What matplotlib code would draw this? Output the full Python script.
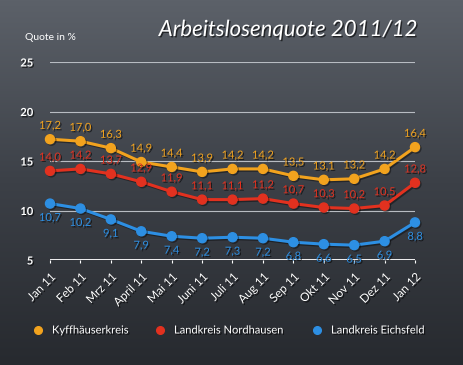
import numpy as np
import matplotlib
matplotlib.use('Agg')
import matplotlib.pyplot as plt
import matplotlib.patheffects as pe
from matplotlib.colors import LinearSegmentedColormap

months = ['Jan 11', 'Feb 11', 'Mrz 11', 'April 11', 'Mai 11', 'Juni 11', 'Juli 11',
          'Aug 11', 'Sep 11', 'Okt 11', 'Nov 11', 'Dez 11', 'Jan 12']
kyff = [17.2, 17.0, 16.3, 14.9, 14.4, 13.9, 14.2, 14.2, 13.5, 13.1, 13.2, 14.2, 16.4]
nordh = [14.0, 14.2, 13.7, 12.9, 11.9, 11.1, 11.1, 11.2, 10.7, 10.3, 10.2, 10.5, 12.8]
eichs = [10.7, 10.2, 9.1, 7.9, 7.4, 7.2, 7.3, 7.2, 6.8, 6.6, 6.5, 6.9, 8.8]
names = ['Kyffhäuserkreis', 'Landkreis Nordhausen', 'Landkreis Eichsfeld']
colors = ['#f2a31e', '#e2311f', '#2d8fe3']
yticks = [5, 10, 15, 20, 25]

plt.rcParams['font.family'] = ['Lato', 'DejaVu Sans']
shadow = [pe.withSimplePatchShadow(offset=(1, -1), shadow_rgbFace='black', alpha=0.6)]

fig = plt.figure(figsize=(4.64, 3.65), dpi=100)

# hintergrund: tafel-verlauf
bg = fig.add_axes([0, 0, 1, 1])
grad = np.linspace(0, 1, 256).reshape(-1, 1)
cmap = LinearSegmentedColormap.from_list('bg', ['#5c6169', '#3c4047', '#272a2f'])
bg.imshow(grad, aspect='auto', cmap=cmap, extent=[0, 1, 0, 1], origin='upper')
bg.axis('off')

ax = fig.add_axes([50 / 464, 1 - 260 / 365, 365 / 464, 198 / 365])
ax.patch.set_alpha(0)
ax.set_xlim(0, len(months) - 1)
ax.set_ylim(5, 25)
for s in ax.spines.values():
    s.set_visible(False)
for y in yticks[1:]:
    ax.axhline(y, color='#b8bcc2', lw=0.8, zorder=1)
ax.axhline(5, color='white', lw=1.3, zorder=1)

x = np.arange(len(months))
series = [kyff, nordh, eichs]
offsets = [6, 6, -14]
for vals, c, off in zip(series, colors, offsets):
    ax.plot(x, vals, color=c, lw=2.2, marker='o', ms=6.5, zorder=3, clip_on=False,
            path_effects=[pe.SimpleLineShadow(offset=(1, -1), alpha=0.4), pe.Normal()])
    for xi, v in zip(x, vals):
        ax.annotate(('%.1f' % v).replace('.', ','), (xi, v), xytext=(0, off),
                    textcoords='offset points', ha='center', va='bottom',
                    color=c, fontsize=8, zorder=4, path_effects=shadow)

ax.set_yticks(yticks)
ax.set_yticklabels([str(t) for t in yticks], color='white', fontsize=8, fontweight='bold')
for t in ax.get_yticklabels():
    t.set_path_effects(shadow)
ax.tick_params(axis='y', length=0, pad=12)
ax.set_xticks(x)
ax.set_xticklabels(months, rotation=45, ha='right', rotation_mode='anchor', color='white', fontsize=8.5)
for t in ax.get_xticklabels():
    t.set_path_effects(shadow)
ax.tick_params(axis='x', length=2, color='white', pad=6)

fig.text(25 / 464, 1 - 38 / 365, 'Quote in %', color='white', fontsize=7.5, va='center')
fig.text(288 / 464, 1 - 30 / 365, 'Arbeitslosenquote 2011/12', color='white', fontsize=16,
         style='italic', ha='center', va='center', path_effects=shadow)

lx = [38, 160, 317]
for xx, n, c in zip(lx, names, colors):
    fig.lines.append(plt.Line2D([xx / 464], [1 - 330 / 365], marker='o', ms=5.5, color=c,
                                transform=fig.transFigure))
    fig.text((xx + 14) / 464, 1 - 330 / 365, n, color='white', fontsize=8, va='center',
             path_effects=shadow)

fig.savefig('out.png', dpi=100)
